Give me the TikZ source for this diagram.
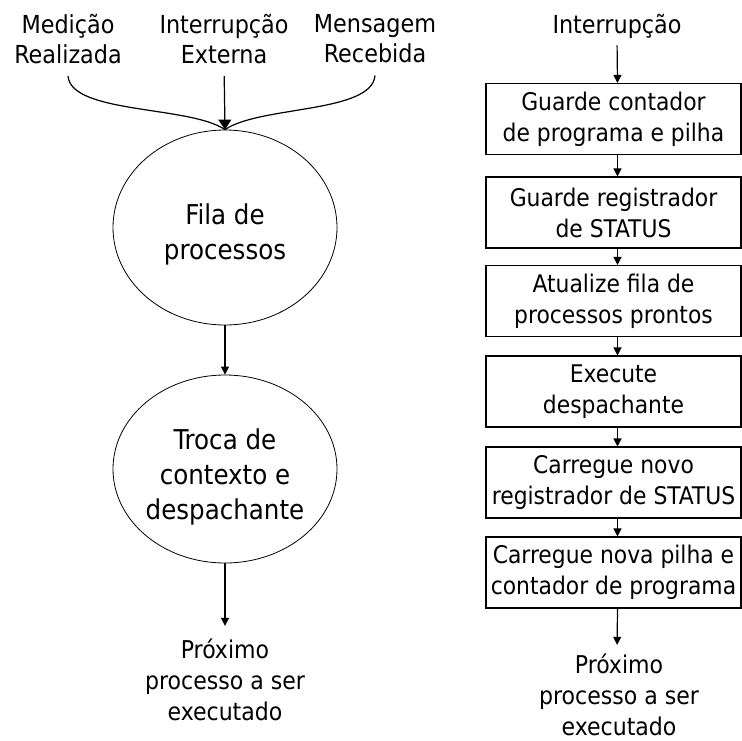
\documentclass[tikz,border=0pt]{standalone}
\usepackage{fontspec}
\setmainfont{DejaVu Sans Condensed}
\usetikzlibrary{arrows.meta,shapes.geometric}
\begin{document}
\begin{tikzpicture}[x=1pt,y=-1pt,
  lbl/.style={align=center,font=\fontsize{24.8}{30}\selectfont,inner sep=0pt},
  outlbl/.style={align=center,font=\fontsize{24.5}{31}\selectfont,inner sep=0pt},
  ell/.style={draw,ellipse,line width=0.8pt,inner sep=0pt},
  elltext/.style={align=center,font=\fontsize{27.3}{35}\selectfont,inner sep=0pt},
  stepbox/.style={draw,line width=1.1pt,minimum width=255pt,minimum height=71pt,inner sep=0pt,align=center,font=\fontsize{24.3}{31}\selectfont},
  arr/.style={line width=1.2pt,-{Triangle[length=8pt,width=8pt]}},
  bigarr/.style={line width=1.2pt,-{Triangle[length=10pt,width=13pt]}},
  ln/.style={line width=1.2pt}]
\useasboundingbox (0,0) rectangle (742,740);

% ---------- left part ----------
\node[lbl] (med) at (68,39) {Medição\\Realizada};
\node[lbl] (ext) at (224,39) {Interrupção\\Externa};
\node[lbl] (msg) at (375,39) {Mensagem\\Recebida};

\node[ell,minimum width=224pt,minimum height=195pt,
  label={[elltext,yshift=-7pt]center:{Fila de\\processos}}] (e1) at (225,227.5) {};
\node[ell,minimum width=224pt,minimum height=188pt,
  label={[elltext,yshift=-8pt]center:{Troca de\\contexto e\\despachante}}] (e2) at (225,469) {};
\node[outlbl] (prox1) at (225,680) {Próximo\\processo a ser\\executado};

\coordinate (c1) at ([yshift=-12pt]med.south);
\coordinate (c3) at ([yshift=-12pt]msg.south);
\coordinate (tip) at (e1.north);

\draw[ln] (c1) .. controls ++(3,38) and ++(-35,-24) .. (tip);
\draw[ln] (c3) .. controls ++(-3,38) and ++(35,-24) .. (tip);
\draw[bigarr,shorten <=12pt] (ext.south) -- (tip);
\draw[arr] (e1.south) -- (e2.north);
\draw[arr,shorten >=13pt] (e2.south) -- (prox1.north);

% ---------- right part ----------
\node[lbl,anchor=base] (int) at (617,33) {Interrupção};
\node[stepbox] (b1) at (613.5,119) {Guarde contador\\de programa e pilha};
\node[stepbox] (b2) at (613.5,212.5) {Guarde registrador\\de STATUS};
\node[stepbox] (b3) at (613.5,301) {Atualize fila de\\processos prontos};
\node[stepbox] (b4) at (613.5,391.5) {Execute\\despachante};
\node[stepbox] (b5) at (613.5,482.5) {Carregue novo\\registrador de STATUS};
\node[stepbox] (b6) at (613.5,572.5) {Carregue nova pilha e\\contador de programa};
\node[outlbl] (prox2) at (619,695) {Próximo\\processo a ser\\executado};

\draw[arr,shorten <=7pt] (int.south) -- ([xshift=4pt]b1.north);
\draw[arr] ([xshift=4pt]b1.south) -- ([xshift=4pt]b2.north);
\draw[arr] ([xshift=4pt]b2.south) -- ([xshift=4pt]b3.north);
\draw[arr] ([xshift=4pt]b3.south) -- ([xshift=4pt]b4.north);
\draw[arr] ([xshift=4pt]b4.south) -- ([xshift=4pt]b5.north);
\draw[arr] ([xshift=4pt]b5.south) -- ([xshift=4pt]b6.north);
\draw[arr,shorten >=9pt] ([xshift=4pt]b6.south) -- ([xshift=-2pt]prox2.north);
\end{tikzpicture}
\end{document}
